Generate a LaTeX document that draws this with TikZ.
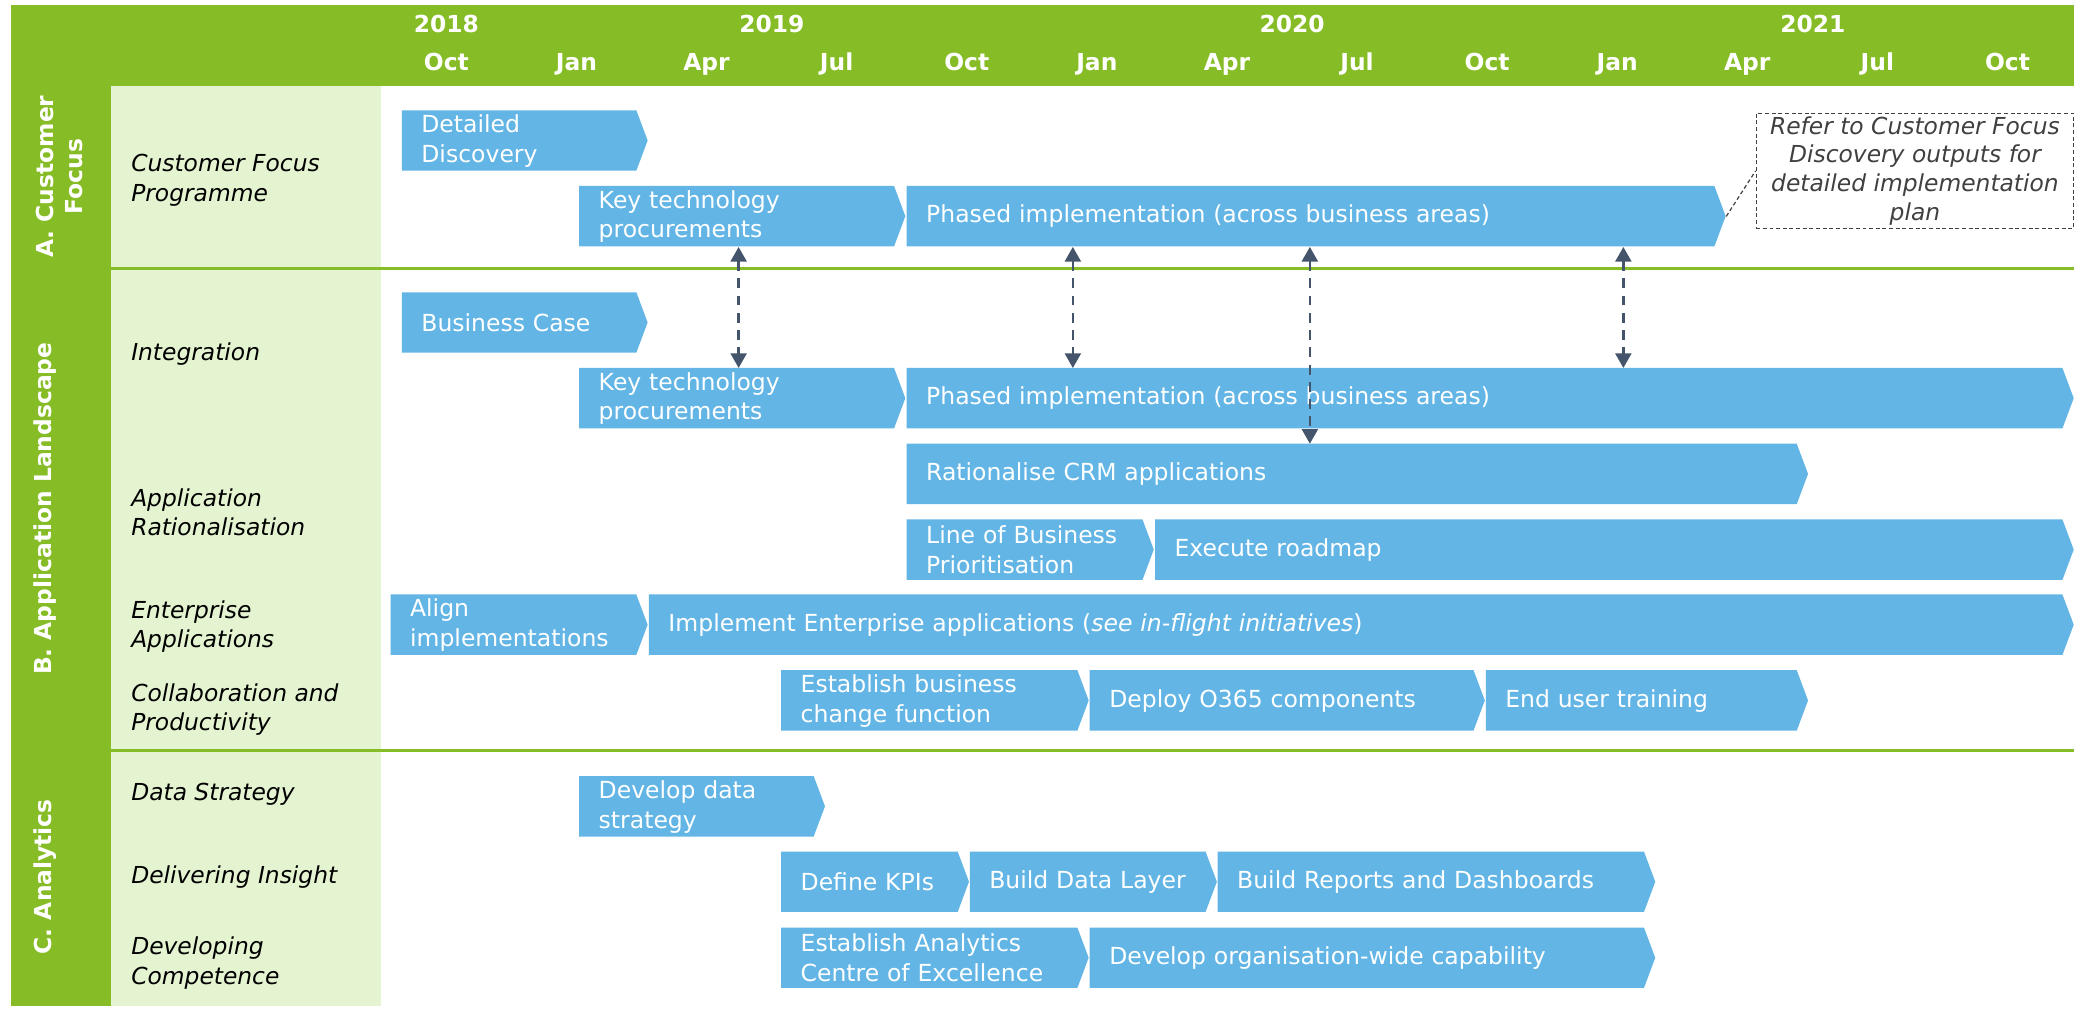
\documentclass[tikz,border=0pt]{standalone}
\usepackage{fontspec}
\setmainfont{DejaVu Sans}
\usetikzlibrary{arrows.meta}

\definecolor{hdrgreen}{HTML}{86BC25}
\definecolor{palegreen}{HTML}{E5F4D0}
\definecolor{chevblue}{HTML}{62B5E5}
\definecolor{linkgray}{HTML}{44546A}
\definecolor{notegray}{HTML}{404040}

% #1 name, #2 left edge, #3 tip x, #4 top edge, #5 label
\newcommand{\roadbar}[5]{%
  \fill[chevblue] (#2,#4) -- ({#3-8.5},#4) -- (#3,{#4+22.75}) -- ({#3-8.5},{#4+45.5}) -- (#2,{#4+45.5}) -- cycle;
  \pgfmathsetmacro\barwidth{#3-#2-14.5}%
  \node[bartext, text width=\barwidth pt, anchor=north west] (#1) at ({#2+14.5},#4) {#5};%
}

\begin{document}
\begin{tikzpicture}[x=1pt, y=-1pt,
  bartext/.style={text=white, font=\fontsize{17.7}{22.5}\selectfont, align=left, inner sep=0pt, minimum height=45.5pt},
  rowlabel/.style={anchor=west, align=left, inner sep=0pt, font=\fontsize{17.6}{22.3}\selectfont\itshape},
  hdr/.style={text=white, inner sep=0pt, anchor=base, font=\fontsize{17.6}{21}\selectfont\bfseries},
  section/.style={text=white, rotate=90, align=center, inner sep=0pt, font=\fontsize{17.6}{22}\selectfont\bfseries},
  sepline/.style={draw=hdrgreen, line width=1.8pt},
  link/.style={draw=linkgray, line width=1.8pt, dash pattern=on 7.5pt off 5.5pt,
    {Triangle[width=12pt,length=11pt]}-{Triangle[width=12pt,length=11pt]}},
  notebox/.style={draw=notegray, dash pattern=on 3pt off 2pt, line width=0.9pt, text=notegray,
    align=center, inner sep=0pt, minimum width=239pt, minimum height=86.6pt,
    font=\fontsize{17.6}{21.6}\selectfont\itshape},
  notelink/.style={draw=notegray, dash pattern=on 3pt off 2pt, line width=0.9pt}
]
\useasboundingbox (0,0) rectangle (1568,759.5);

% frame: header band, section column, label column
\fill[hdrgreen] (8.3,3.8) rectangle (1561.5,64.7);
\fill[hdrgreen] (8.3,64.7) rectangle (83.6,757);
\fill[palegreen] (83.6,64.7) rectangle (287,757);

% timeline header (placed on baselines)
\node[hdr] (y2018) at (336,24.3) {2018};
\node[hdr] (y2019) at (581,24.3) {2019};
\node[hdr] (y2020) at (972.7,24.3) {2020};
\node[hdr] (y2021) at (1364.7,24.3) {2021};
\foreach \m [count=\i from 0] in {Oct,Jan,Apr,Jul,Oct,Jan,Apr,Jul,Oct,Jan,Apr,Jul,Oct}
  \node[hdr] (month\i) at ({336+97.93*\i},52.7) {\m};

% section dividers
\draw[sepline] (83.6,202) -- (1561.5,202);
\draw[sepline] (83.6,565) -- (1561.5,565);

% section titles
\node[section] (secA) at (45,133) {A. Customer\\Focus};
\node[section] (secB) at (34,383) {B. Application Landscape};
\node[section] (secC) at (34,660) {C. Analytics};

% workstream labels
\node[rowlabel] (lblCFP) at (98.6,135.5) {Customer Focus\\Programme};
\node[rowlabel] (lblInt) at (98.6,266.5) {Integration};
\node[rowlabel] (lblRat) at (98.6,385.5) {Application\\Rationalisation};
\node[rowlabel] (lblEnt) at (98.6,471.5) {Enterprise\\Applications};
\node[rowlabel] (lblCol) at (98.6,534) {Collaboration and\\Productivity};
\node[rowlabel] (lblData) at (98.6,598) {Data Strategy};
\node[rowlabel] (lblIns) at (98.6,660) {Delivering Insight};
\node[rowlabel] (lblComp) at (98.6,725) {Developing\\Competence};

% A. Customer Focus
\roadbar{discA}{302.5}{487.5}{83}{Detailed\\Discovery}
\roadbar{procA}{436}{681.5}{140}{Key technology\\procurements}
\roadbar{phaseA}{682.5}{1299}{140}{Phased implementation (across business areas)}

% B. Application Landscape
\roadbar{caseB}{302.5}{487.5}{220}{Business Case}
\roadbar{procB}{436}{681.5}{277}{Key technology\\procurements}
\roadbar{phaseB}{682.5}{1561}{277}{Phased implementation (across business areas)}
\roadbar{crmB}{682.5}{1361}{334}{Rationalise CRM applications}
\roadbar{lobB}{682.5}{868.5}{391}{Line of Business\\Prioritisation}
\roadbar{execB}{869.5}{1561}{391}{Execute roadmap}
\roadbar{alignB}{294}{487.5}{447.5}{Align\\implementations}
\roadbar{entB}{488.5}{1561}{447.5}{Implement Enterprise applications (\textit{see in-flight initiatives})}
\roadbar{changeB}{588}{819.5}{504.5}{Establish business\\change function}
\roadbar{o365B}{820.3}{1117.7}{504.5}{Deploy O365 components}
\roadbar{trainB}{1118.4}{1361}{504.5}{End user training}

% C. Analytics
\roadbar{dataC}{436}{621}{584.2}{Develop data\\strategy}
\roadbar{kpiC}{588}{729.4}{641}{Define KPIs}
\roadbar{layerC}{730}{916}{641}{Build Data Layer}
\roadbar{repC}{916.6}{1246}{641}{Build Reports and Dashboards}
\roadbar{coeC}{588}{819.5}{698.2}{Establish Analytics\\Centre of Excellence}
\roadbar{orgC}{820.3}{1246}{698.2}{Develop organisation-wide capability}

% dependencies between Customer Focus and Integration
\coordinate (xa) at (556,0);
\coordinate (xb) at (807.6,0);
\coordinate (xc) at (986,0);
\coordinate (xd) at (1222,0);
\draw[link] (procA.south -| xa) -- (procB.north -| xa);
\draw[link] (phaseA.south -| xb) -- (phaseB.north -| xb);
\draw[link] (phaseA.south -| xc) -- (crmB.north -| xc);
\draw[link] (phaseA.south -| xd) -- (phaseB.north -| xd);

% callout
\node[notebox] (note) at (1441.5,128.6) {Refer to Customer Focus\\Discovery outputs for\\detailed implementation\\plan};
\draw[notelink] (phaseA.east) -- (note.west);
\end{tikzpicture}
\end{document}
